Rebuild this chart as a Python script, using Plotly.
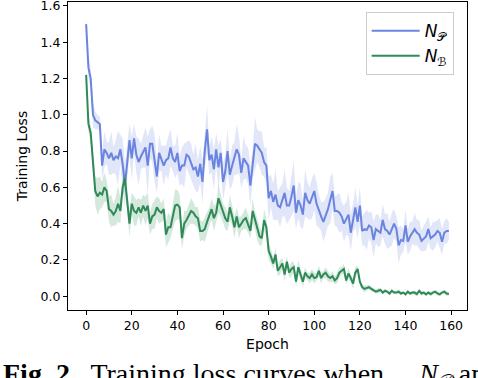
import plotly.graph_objects as go

epochs = list(range(160))

loss_P = [1.50, 1.26, 1.20, 1.00, 0.97, 0.96, 0.95, 0.72, 0.81, 0.79,
          0.76, 0.79, 0.75, 0.77, 0.76, 0.81, 0.73, 0.61, 0.75, 0.86,
          0.76, 0.87, 0.78, 0.74, 0.77, 0.80, 0.82, 0.72, 0.84, 0.84,
          0.76, 0.66, 0.79, 0.76, 0.72, 0.75, 0.76, 0.82, 0.76, 0.74,
          0.79, 0.69, 0.72, 0.72, 0.78, 0.77, 0.74, 0.70, 0.71, 0.66,
          0.73, 0.63, 0.80, 0.92, 0.75, 0.78, 0.70, 0.81, 0.71, 0.79,
          0.63, 0.69, 0.80, 0.67, 0.72, 0.76, 0.81, 0.78, 0.68, 0.76,
          0.74, 0.72, 0.61, 0.73, 0.84, 0.83, 0.81, 0.79, 0.74, 0.72,
          0.54, 0.58, 0.52, 0.56, 0.50, 0.49, 0.53, 0.57, 0.50, 0.50,
          0.55, 0.61, 0.46, 0.53, 0.50, 0.45, 0.57, 0.53, 0.51, 0.54,
          0.58, 0.51, 0.47, 0.44, 0.41, 0.44, 0.48, 0.53, 0.58, 0.47,
          0.47, 0.46, 0.44, 0.40, 0.43, 0.45, 0.35, 0.43, 0.49, 0.41,
          0.50, 0.36, 0.37, 0.365, 0.39, 0.38, 0.31, 0.37, 0.36, 0.35,
          0.42, 0.37, 0.36, 0.34, 0.37, 0.40, 0.37, 0.28, 0.31, 0.305,
          0.39, 0.30, 0.33, 0.35, 0.37, 0.35, 0.34, 0.305, 0.32, 0.33,
          0.37, 0.32, 0.33, 0.34, 0.36, 0.35, 0.30, 0.35, 0.36, 0.36]

std_P = [0.04, 0.05, 0.06, 0.07, 0.05, 0.04, 0.04, 0.08, 0.10, 0.06,
         0.09, 0.12, 0.07, 0.10, 0.15, 0.08, 0.14, 0.12, 0.10, 0.09,
         0.12, 0.08, 0.10, 0.13, 0.07, 0.09, 0.11, 0.16, 0.08, 0.10,
         0.13, 0.09, 0.10, 0.07, 0.11, 0.08, 0.12, 0.10, 0.07, 0.09,
         0.11, 0.08, 0.10, 0.12, 0.07, 0.09, 0.10, 0.08, 0.13, 0.09,
         0.10, 0.12, 0.09, 0.13, 0.08, 0.10, 0.11, 0.09, 0.12, 0.08,
         0.10, 0.09, 0.12, 0.08, 0.11, 0.09, 0.14, 0.10, 0.08, 0.12,
         0.09, 0.10, 0.11, 0.08, 0.15, 0.09, 0.10, 0.12, 0.08, 0.10,
         0.12, 0.09, 0.10, 0.14, 0.08, 0.11, 0.09, 0.13, 0.10, 0.08,
         0.11, 0.14, 0.09, 0.10, 0.12, 0.08, 0.13, 0.10, 0.09, 0.11,
         0.10, 0.12, 0.09, 0.08, 0.11, 0.10, 0.09, 0.13, 0.10, 0.08,
         0.09, 0.11, 0.08, 0.10, 0.09, 0.12, 0.10, 0.08, 0.11, 0.09,
         0.10, 0.08, 0.09, 0.11, 0.07, 0.09, 0.10, 0.08, 0.09, 0.07,
         0.09, 0.08, 0.10, 0.07, 0.09, 0.08, 0.07, 0.10, 0.08, 0.06,
         0.09, 0.07, 0.08, 0.06, 0.09, 0.07, 0.08, 0.06, 0.07, 0.08,
         0.07, 0.06, 0.08, 0.07, 0.06, 0.08, 0.07, 0.06, 0.07, 0.05]

loss_B = [1.22, 0.95, 0.90, 0.75, 0.58, 0.55, 0.57, 0.56, 0.60, 0.58,
          0.48, 0.47, 0.45, 0.47, 0.51, 0.47, 0.60, 0.65, 0.52, 0.40,
          0.51, 0.47, 0.46, 0.49, 0.46, 0.50, 0.47, 0.50, 0.40, 0.44,
          0.45, 0.49, 0.47, 0.46, 0.48, 0.34, 0.38, 0.38, 0.44, 0.50,
          0.505, 0.49, 0.32, 0.40, 0.42, 0.45, 0.47, 0.46, 0.44, 0.43,
          0.36, 0.36, 0.37, 0.41, 0.44, 0.48, 0.43, 0.46, 0.54, 0.50,
          0.46, 0.43, 0.41, 0.49, 0.44, 0.38, 0.44, 0.38, 0.40, 0.42,
          0.43, 0.40, 0.36, 0.47, 0.42, 0.37, 0.33, 0.32, 0.42, 0.38,
          0.25, 0.22, 0.18, 0.23, 0.14, 0.16, 0.18, 0.12, 0.19, 0.13,
          0.15, 0.16, 0.08, 0.16, 0.12, 0.08, 0.13, 0.11, 0.10, 0.12,
          0.10, 0.105, 0.14, 0.10, 0.12, 0.13, 0.11, 0.10, 0.11, 0.087,
          0.10, 0.13, 0.14, 0.15, 0.087, 0.125, 0.10, 0.07, 0.13, 0.15,
          0.08, 0.05, 0.04, 0.045, 0.05, 0.04, 0.033, 0.025, 0.03, 0.035,
          0.02, 0.03, 0.025, 0.015, 0.03, 0.02, 0.02, 0.025, 0.015, 0.02,
          0.01, 0.025, 0.015, 0.02, 0.02, 0.012, 0.03, 0.015, 0.02, 0.01,
          0.02, 0.012, 0.02, 0.025, 0.015, 0.01, 0.02, 0.025, 0.015, 0.012]

std_B = [0.03, 0.04, 0.05, 0.06, 0.08, 0.10, 0.09, 0.07, 0.08, 0.06,
         0.07, 0.09, 0.06, 0.08, 0.10, 0.07, 0.05, 0.06, 0.08, 0.07,
         0.06, 0.08, 0.07, 0.05, 0.07, 0.06, 0.08, 0.07, 0.06, 0.07,
         0.08, 0.06, 0.07, 0.05, 0.06, 0.07, 0.08, 0.06, 0.07, 0.09,
         0.08, 0.07, 0.06, 0.07, 0.05, 0.06, 0.07, 0.06, 0.05, 0.06,
         0.06, 0.05, 0.07, 0.06, 0.05, 0.06, 0.07, 0.05, 0.08, 0.06,
         0.05, 0.06, 0.05, 0.07, 0.05, 0.06, 0.05, 0.06, 0.04, 0.05,
         0.06, 0.05, 0.04, 0.07, 0.05, 0.06, 0.05, 0.04, 0.06, 0.05,
         0.05, 0.04, 0.03, 0.04, 0.03, 0.04, 0.03, 0.04, 0.03, 0.03,
         0.04, 0.03, 0.03, 0.04, 0.03, 0.03, 0.03, 0.02, 0.03, 0.03,
         0.03, 0.02, 0.03, 0.03, 0.02, 0.03, 0.03, 0.02, 0.03, 0.02,
         0.03, 0.03, 0.02, 0.03, 0.02, 0.03, 0.02, 0.03, 0.03, 0.02,
         0.02, 0.015, 0.02, 0.015, 0.01, 0.015, 0.01, 0.01, 0.015, 0.01,
         0.01, 0.012, 0.008, 0.01, 0.012, 0.008, 0.01, 0.012, 0.01, 0.008,
         0.01, 0.012, 0.008, 0.01, 0.012, 0.01, 0.008, 0.012, 0.01, 0.008,
         0.01, 0.012, 0.01, 0.008, 0.012, 0.01, 0.008, 0.01, 0.012, 0.01]

x_ticks = [0, 20, 40, 60, 80, 100, 120, 140, 160]
y_ticks = [0.0, 0.2, 0.4, 0.6, 0.8, 1.0, 1.2, 1.4, 1.6]

series = [
    ("P", "<i>N</i><sub>𝒫</sub>", loss_P, std_P, "#6a84e0", "rgba(106,132,224,0.2)"),
    ("B", "<i>N</i><sub>ℬ</sub>", loss_B, std_B, "#2e8b57", "rgba(46,139,87,0.2)"),
]

fig = go.Figure()
for grp, name, mean, sd, col, fillcol in series:
    upper = [m + s for m, s in zip(mean, sd)]
    lower = [m - s for m, s in zip(mean, sd)]
    fig.add_trace(go.Scatter(x=epochs, y=upper, mode="lines", line=dict(width=0),
                             legendgroup=grp, showlegend=False, hoverinfo="skip"))
    fig.add_trace(go.Scatter(x=epochs, y=lower, mode="lines", line=dict(width=0),
                             fill="tonexty", fillcolor=fillcol, legendgroup=grp,
                             showlegend=False, hoverinfo="skip"))
    fig.add_trace(go.Scatter(x=epochs, y=mean, mode="lines", name=name,
                             legendgroup=grp, line=dict(color=col, width=2)))

axis_common = dict(showline=True, linecolor="black", linewidth=1.2, mirror=True,
                   ticks="outside", ticklen=4, tickwidth=1, tickcolor="black",
                   showgrid=False, zeroline=False, automargin=False,
                   ticklabeloverflow="allow",
                   tickfont=dict(family="DejaVu Sans", size=12.5, color="black"))

fig.update_layout(
    width=478, height=378,
    margin=dict(l=68, r=11, t=2, b=68, autoexpand=False),
    paper_bgcolor="white", plot_bgcolor="white",
    xaxis=dict(range=[-7.95, 166.95], tickvals=x_ticks,
               title=dict(text="Epoch", standoff=7,
                          font=dict(family="DejaVu Sans", size=14, color="black")),
               **axis_common),
    yaxis=dict(range=[-0.076, 1.622], tickvals=y_ticks, tickformat=".1f",
               title=dict(text="Training Loss", standoff=9,
                          font=dict(family="DejaVu Sans", size=14, color="black")),
               **axis_common),
    legend=dict(x=0.746, y=0.967, xanchor="left", yanchor="top",
                traceorder="normal", groupclick="togglegroup",
                bgcolor="rgba(255,255,255,0.8)", bordercolor="#cccccc", borderwidth=1,
                font=dict(family="DejaVu Sans", size=17, color="black"),
                itemwidth=48, tracegroupgap=5),
    showlegend=True,
)

fig.add_annotation(
    xref="paper", yref="paper", x=-0.168, y=-0.15, xanchor="left", yanchor="top",
    text="<b>Fig. 2.</b>  Training loss curves when     <i>N</i><sub>𝒫</sub> and",
    showarrow=False, font=dict(family="Liberation Serif", size=28, color="black"),
)

fig.write_html("out.html", config={"displayModeBar": False},
               post_script="document.body.style.margin='0';document.body.style.overflow='hidden';")
